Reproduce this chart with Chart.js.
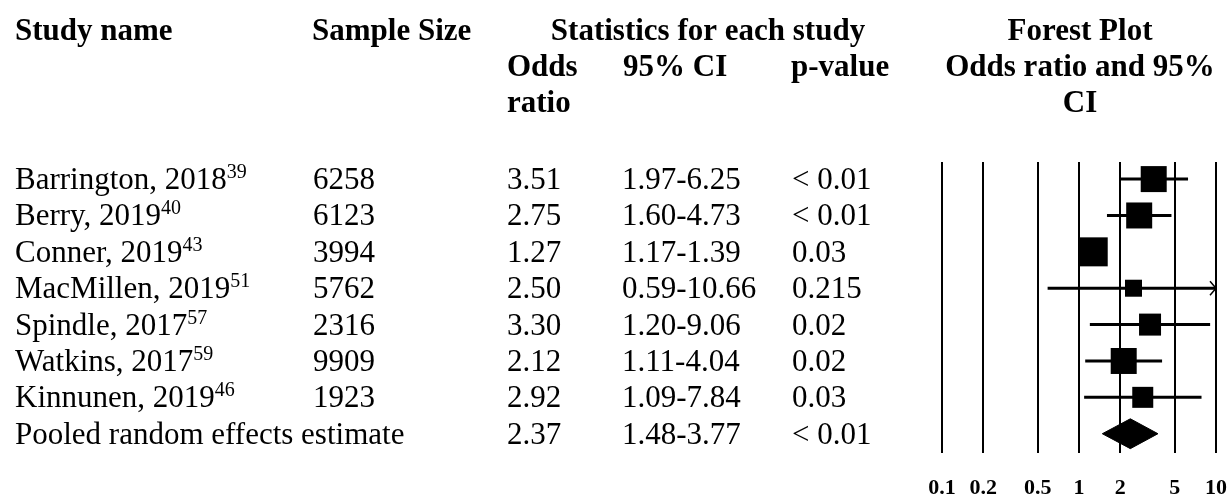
<!DOCTYPE html>
<html>
<head>
<meta charset="utf-8">
<script src="https://cdn.jsdelivr.net/npm/chart.js@4.4.0/dist/chart.umd.min.js"></script>
<style>
  body { margin: 0; background: #fff; }
  #wrap { width: 1230px; height: 500px; }
</style>
</head>
<body>
<div id="wrap"><canvas id="forest" width="1230" height="500"></canvas></div>
<script>
// Study data
const studies = ["Barrington, 2018", "Berry, 2019", "Conner, 2019", "MacMillen, 2019", "Spindle, 2017", "Watkins, 2017", "Kinnunen, 2019"];
const refs = ["39", "40", "43", "51", "57", "59", "46"];
const sampleSizes = ["6258", "6123", "3994", "5762", "2316", "9909", "1923"];
const oddsRatios = [3.51, 2.75, 1.27, 2.50, 3.30, 2.12, 2.92];
const ciLow = [1.97, 1.60, 1.17, 0.59, 1.20, 1.11, 1.09];
const ciHigh = [6.25, 4.73, 1.39, 10.66, 9.06, 4.04, 7.84];
const pValues = ["< 0.01", "< 0.01", "0.03", "0.215", "0.02", "0.02", "0.03"];
// relative study weights (box size)
const weights = [26, 26, 29, 17, 22, 26, 21];

// Pooled estimate
const pooledLabel = "Pooled random effects estimate";
const pooledOR = 2.37;
const pooledLow = 1.48;
const pooledHigh = 3.77;
const pooledP = "< 0.01";

const xTicks = [0.1, 0.2, 0.5, 1, 2, 5, 10];

const SERIF = "'Liberation Serif', 'Times New Roman', serif";
const pooledRow = studies.length;

// CI whiskers, one line per study
const ciSets = studies.map((s, i) => ({
  type: "line",
  data: [{ x: ciLow[i], y: i }, { x: ciHigh[i], y: i }],
  borderColor: "#000",
  borderWidth: 3,
  pointRadius: 0,
  tension: 0,
}));

const boxSet = {
  type: "scatter",
  data: oddsRatios.map((v, i) => ({ x: v, y: i })),
  pointStyle: "rect",
  pointRadius: weights.map((w) => w / Math.SQRT2),
  backgroundColor: "#000",
  borderWidth: 0,
};

const dh = 0.41; // half height of the diamond, in rows
const diamondSet = {
  type: "line",
  data: [
    { x: pooledLow, y: pooledRow },
    { x: pooledOR, y: pooledRow - dh },
    { x: pooledHigh, y: pooledRow },
    { x: pooledOR, y: pooledRow + dh },
    { x: pooledLow, y: pooledRow },
  ],
  borderColor: "#000",
  backgroundColor: "#000",
  borderWidth: 1,
  pointRadius: 0,
  tension: 0,
  fill: "shape",
};

// table text, axis labels + arrow for clipped CI
const tablePlugin = {
  id: "table",
  afterDraw(chart) {
    const ctx = chart.ctx;
    const ys = chart.scales.y;
    const xs = chart.scales.x;
    ctx.save();
    ctx.fillStyle = "#000";
    ctx.textBaseline = "alphabetic";

    // headers
    ctx.font = "bold 31px " + SERIF;
    ctx.textAlign = "left";
    ctx.fillText("Study name", 15, 40);
    ctx.fillText("Sample Size", 312, 40);
    ctx.fillText("Odds", 507, 76);
    ctx.fillText("ratio", 507, 112);
    ctx.fillText("95% CI", 623, 76);
    ctx.fillText("p-value", 791, 76);
    ctx.textAlign = "center";
    ctx.fillText("Statistics for each study", 708, 40);
    ctx.fillText("Forest Plot", 1080, 40);
    ctx.fillText("Odds ratio and 95%", 1080, 76);
    ctx.fillText("CI", 1080, 112);

    // rows
    ctx.textAlign = "left";
    studies.forEach((name, i) => {
      const y = ys.getPixelForValue(i) + 10;
      ctx.font = "31px " + SERIF;
      ctx.fillText(name, 15, y);
      const w = ctx.measureText(name).width;
      ctx.fillText(sampleSizes[i], 313, y);
      ctx.fillText(oddsRatios[i].toFixed(2), 507, y);
      ctx.fillText(ciLow[i].toFixed(2) + "-" + ciHigh[i].toFixed(2), 622, y);
      ctx.fillText(pValues[i], 792, y);
      ctx.font = "20px " + SERIF;
      ctx.fillText(refs[i], 15 + w, y - 11);
    });
    const py = ys.getPixelForValue(pooledRow) + 10;
    ctx.font = "31px " + SERIF;
    ctx.fillText(pooledLabel, 15, py);
    ctx.fillText(pooledOR.toFixed(2), 507, py);
    ctx.fillText(pooledLow.toFixed(2) + "-" + pooledHigh.toFixed(2), 622, py);
    ctx.fillText(pooledP, 792, py);

    // x tick labels from the log scale
    ctx.font = "bold 22px " + SERIF;
    ctx.textAlign = "center";
    ctx.textBaseline = "middle";
    xs.ticks.forEach((t) => {
      ctx.fillText(String(t.value), xs.getPixelForValue(t.value), chart.chartArea.bottom + 35);
    });

    // arrow where the CI runs past the axis
    ctx.strokeStyle = "#000";
    ctx.lineWidth = 1.5;
    ciHigh.forEach((hi, i) => {
      if (hi > xs.max) {
        const ax = xs.getPixelForValue(xs.max);
        const ay = ys.getPixelForValue(i);
        ctx.beginPath();
        ctx.moveTo(ax - 6, ay - 7);
        ctx.lineTo(ax, ay);
        ctx.lineTo(ax - 6, ay + 7);
        ctx.stroke();
      }
    });
    ctx.restore();
  },
};

new Chart(document.getElementById("forest"), {
  data: { datasets: [...ciSets, boxSet, diamondSet] },
  options: {
    responsive: false,
    animation: false,
    // autoPadding would reserve room for the biggest box on the right
    layout: { autoPadding: false, padding: { top: 162, left: 942, right: 14, bottom: 47 } },
    plugins: { legend: { display: false }, tooltip: { enabled: false } },
    scales: {
      x: {
        type: "logarithmic",
        min: 0.1,
        max: 10,
        afterBuildTicks: (scale) => {
          scale.ticks = xTicks.map((v) => ({ value: v }));
        },
        afterFit: (scale) => {
          scale.height = 0;
          scale.paddingLeft = 0;
          scale.paddingRight = 0;
        },
        grid: { color: "#000", lineWidth: 2, drawTicks: false },
        border: { display: false },
        ticks: { display: false },
      },
      y: {
        type: "linear",
        display: false,
        reverse: true,
        min: -0.47,
        max: 7.53,
      },
    },
  },
  plugins: [tablePlugin],
});
</script>
</body>
</html>
